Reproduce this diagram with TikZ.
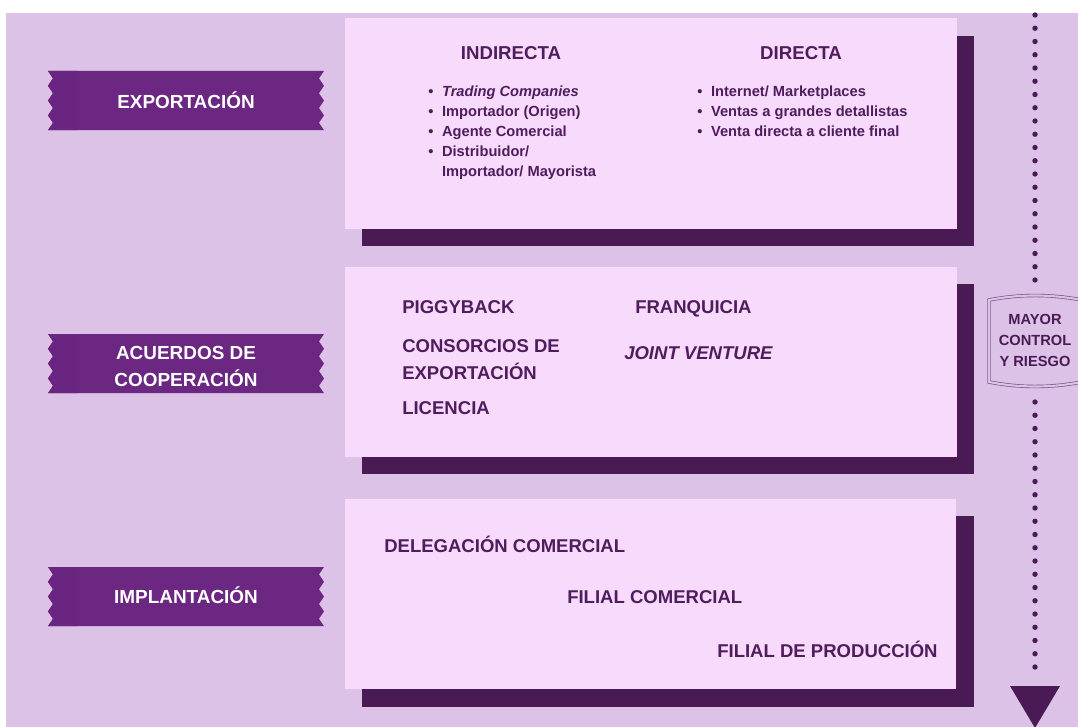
\documentclass[tikz,border=0pt]{standalone}
\usepackage{fontspec}
\setmainfont{Liberation Sans}
\usepackage{tikz}

\definecolor{lavback}{HTML}{DCC2E6}
\definecolor{boxpink}{HTML}{F8DBFC}
\definecolor{boxshadow}{HTML}{4A1A55}
\definecolor{ribbonpurple}{HTML}{6C2783}
\definecolor{ribbonstrip}{HTML}{69257F}
\definecolor{textpurple}{HTML}{4F1D5C}
\definecolor{bannerline}{HTML}{7A5089}

\tikzset{
  ribbontext/.style={text=white,font=\fontsize{14.2}{20.25}\selectfont\bfseries,inner sep=0pt,anchor=base},
  headtext/.style={text=textpurple,font=\fontsize{14}{19}\selectfont\bfseries,inner sep=0pt,anchor=base},
  itemtext/.style={text=textpurple,font=\fontsize{11}{15}\selectfont\bfseries,inner sep=0pt,anchor=base west},
  boxtext/.style={text=textpurple,font=\fontsize{13.9}{20.25}\selectfont\bfseries,inner sep=0pt,anchor=base west},
  bannertext/.style={text=boxshadow,font=\fontsize{11}{15.75}\selectfont\bfseries,inner sep=0pt,anchor=base},
}

\begin{document}
\begin{tikzpicture}[x=0.75pt,y=0.75pt,yscale=-1,xscale=1]
\useasboundingbox (0,0) rectangle (1078,727);

%Background
\fill[white] (0,0) rectangle (1078,727);
\fill[lavback] (6,13) rectangle (1078,727);

%Shape: Ribbons
\foreach \ry in {71,334,567}{
  \fill[ribbonpurple] (48,\ry) -- (324,\ry) -- ++(-5,7.4) -- ++(5,7.4) -- ++(-5,7.4) -- ++(5,7.4) -- ++(-5,7.4) -- ++(5,7.4) -- ++(-5,7.4) -- ++(5,7.4)
    -- (48,\ry+59.2) -- ++(5,-7.4) -- ++(-5,-7.4) -- ++(5,-7.4) -- ++(-5,-7.4) -- ++(5,-7.4) -- ++(-5,-7.4) -- ++(5,-7.4) -- ++(-5,-7.4) -- cycle ;
  \fill[ribbonstrip] (78,\ry) -- (48,\ry) -- ++(5,7.4) -- ++(-5,7.4) -- ++(5,7.4) -- ++(-5,7.4) -- ++(5,7.4) -- ++(-5,7.4) -- ++(5,7.4) -- ++(-5,7.4) -- (78,\ry+59.2) -- cycle ;
}

%Shape: Rectangle (shadows)
\fill[boxshadow] (362,36) rectangle (974,246) ;
\fill[boxshadow] (362,284) rectangle (974,474) ;
\fill[boxshadow] (362,516) rectangle (974,707) ;
%Shape: Rectangle (boxes)
\fill[boxpink] (345,18) rectangle (957,229) ;
\fill[boxpink] (345,267) rectangle (957,457) ;
\fill[boxpink] (345,499) rectangle (956,689) ;

%Dotted arrow
\foreach \k in {0,...,20}{
  \fill[boxshadow] (1035,15+13.25*\k) circle (2.7) ;
  \fill[boxshadow] (1035,402+13.25*\k) circle (2.7) ;
}
\fill[boxshadow] (1010,686) -- (1060,686) -- (1035,728) -- cycle ;

%Shape: Banner
\draw[bannerline,line width=0.5pt,double=lavback,double distance=1.6pt] (1082,300) .. controls (1050,294) and (1020,294) .. (989,300) -- (989,382) .. controls (1020,388) and (1050,388) .. (1082,382) ;

% Text Node
\draw (186,109) node (exportacion) [ribbontext] {EXPORTACIÓN};
% Text Node
\draw (186,359) node (acuerdos) [ribbontext] {\begin{tabular}[t]{@{}c@{}}ACUERDOS DE\\COOPERACIÓN\end{tabular}};
% Text Node
\draw (186,603) node (implantacion) [ribbontext] {IMPLANTACIÓN};

% Text Node
\draw (511,60) node (indirecta) [headtext] {INDIRECTA};
% Text Node
\draw (801,60) node (directa) [headtext] {DIRECTA};
% Text Node
\draw (428,97) node (indirlist) [itemtext] {\begin{tabular}[t]{@{}l@{\hspace{6.5pt}}l@{}}
\textbullet & \textit{Trading Companies}\\
\textbullet & Importador (Origen)\\
\textbullet & Agente Comercial\\
\textbullet & Distribuidor/\\
 & Importador/ Mayorista
\end{tabular}};
% Text Node
\draw (697,97) node (dirlist) [itemtext] {\begin{tabular}[t]{@{}l@{\hspace{6.5pt}}l@{}}
\textbullet & Internet/ Marketplaces\\
\textbullet & Ventas a grandes detallistas\\
\textbullet & Venta directa a cliente final
\end{tabular}};

% Text Node
\draw (402,314) node (piggyback) [boxtext] {PIGGYBACK};
% Text Node
\draw (402,353) node (consorcios) [boxtext] {\begin{tabular}[t]{@{}l@{}}CONSORCIOS DE\\EXPORTACIÓN\end{tabular}};
% Text Node
\draw (402,414) node (licencia) [boxtext] {LICENCIA};
% Text Node
\draw (635,314) node (franquicia) [boxtext] {FRANQUICIA};
% Text Node
\draw (624,359) node (joint) [boxtext] {\textit{JOINT VENTURE}};

% Text Node
\draw (384,552) node (delegacion) [boxtext] {DELEGACIÓN COMERCIAL};
% Text Node
\draw (567,603) node (filialcom) [boxtext] {FILIAL COMERCIAL};
% Text Node
\draw (717,657) node (filialprod) [boxtext] {FILIAL DE PRODUCCIÓN};

% Text Node
\draw (1035,325) node (riesgo) [bannertext] {\begin{tabular}[t]{@{}c@{}}MAYOR\\CONTROL\\Y RIESGO\end{tabular}};

\end{tikzpicture}
\end{document}
